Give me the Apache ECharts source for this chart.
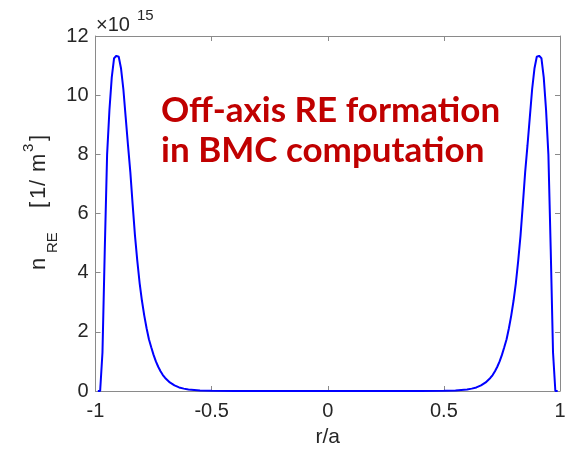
<!DOCTYPE html>
<html><head><meta charset="utf-8">
<script src="https://cdn.jsdelivr.net/npm/echarts@6/dist/echarts.min.js"></script>
<style>html,body{margin:0;padding:0;background:#fff}#c{width:571px;height:453px}</style>
</head><body><div id="c"></div>
<script>
// radius r/a
const rA = [-0.99,-0.98,-0.97,-0.96,-0.95,-0.94,-0.93,-0.92,-0.91,-0.90,-0.89,-0.88,-0.87,-0.86,-0.85,-0.84,-0.83,-0.82,-0.81,-0.80,-0.79,-0.78,-0.77,-0.76,-0.75,-0.74,-0.73,-0.72,-0.71,-0.70,-0.68,-0.66,-0.64,-0.62,-0.60,-0.55,-0.50,-0.40,-0.30,0.00,0.30,0.40,0.50,0.55,0.60,0.62,0.64,0.66,0.68,0.70,0.71,0.72,0.73,0.74,0.75,0.76,0.77,0.78,0.79,0.80,0.81,0.82,0.83,0.84,0.85,0.86,0.87,0.88,0.89,0.90,0.91,0.92,0.93,0.94,0.95,0.96,0.97,0.98,0.99];
// n_RE in units of 1e15 m^-3
const nRE = [0,0,1.3,4.8,8.0,9.5,10.6,11.25,11.33,11.3,10.9,10.2,9.25,8.3,7.4,6.3,5.25,4.4,3.65,3.05,2.55,2.12,1.75,1.48,1.22,1.0,0.82,0.67,0.54,0.44,0.29,0.19,0.12,0.08,0.05,0.02,0.008,0.001,0,0,0,0.001,0.008,0.02,0.05,0.08,0.12,0.19,0.29,0.44,0.54,0.67,0.82,1.0,1.22,1.48,1.75,2.12,2.55,3.05,3.65,4.4,5.25,6.3,7.4,8.3,9.25,10.2,10.9,11.3,11.33,11.25,10.6,9.5,8.0,4.8,1.3,0,0];
const xTickLabels = {"-1":"-1","-0.5":"-0.5","0":"0","0.5":"0.5","1":"1"};
const yTickLabels = ["0","2","4","6","8","10","12"];
const annotationLines = ["Off-axis RE formation","in BMC computation"];

const chart = echarts.init(document.getElementById('c'), null, {renderer:'canvas'});
const F = '"Liberation Sans", Arial, Helvetica, sans-serif';
const TXT = '#262626';
const AX = '#8a8a8a';
const tickInside = {show:true, inside:true, length:5, lineStyle:{color:AX}};
const ylab = (text, x, y, s) => ({type:'text', x:x, y:y, style:{text:text, fontFamily:F, fontSize:s, fill:TXT}});
chart.setOption({
  animation:false,
  backgroundColor:'#fff',
  grid:{left:95.5, right:11, top:36, bottom:60, containLabel:false},
  xAxis:[{
    type:'value', min:-1, max:1, interval:0.5, position:'bottom',
    axisLine:{show:true, onZero:false, lineStyle:{color:AX}},
    axisTick:tickInside, splitLine:{show:false},
    axisLabel:{fontFamily:F, fontSize:20, color:TXT, margin:10,
      formatter:v=>xTickLabels[String(v)] ?? String(v)},
    name:'r/a', nameLocation:'middle', nameGap:36,
    nameTextStyle:{fontFamily:F, fontSize:21, color:TXT}
  },{
    type:'value', min:-1, max:1, interval:0.5, position:'top',
    axisLine:{show:true, onZero:false, lineStyle:{color:AX}},
    axisTick:tickInside, axisLabel:{show:false}, splitLine:{show:false}
  }],
  yAxis:[{
    type:'value', min:0, max:12, interval:2, position:'left',
    axisLine:{show:true, onZero:false, lineStyle:{color:AX}},
    axisTick:tickInside, splitLine:{show:false},
    axisLabel:{fontFamily:F, fontSize:20, color:TXT, margin:7,
      formatter:(v)=>yTickLabels[Math.round(v/2)]}
  },{
    type:'value', min:0, max:12, interval:2, position:'right',
    axisLine:{show:true, onZero:false, lineStyle:{color:AX}},
    axisTick:tickInside, axisLabel:{show:false}, splitLine:{show:false}
  }],
  series:[{
    type:'line', xAxisIndex:0, yAxisIndex:0,
    data:rA.map((r,i)=>[r,nRE[i]]),
    showSymbol:false, smooth:false,
    lineStyle:{color:'#0000ff', width:2}
  }],
  graphic:[
    {type:'text', x:96, y:15, style:{text:'×10', fontFamily:F, fontSize:20, fill:TXT}},
    {type:'text', x:137, y:8, style:{text:'15', fontFamily:F, fontSize:15, fill:TXT}},
    {type:'group', x:0, y:270, rotation:Math.PI/2, children:[
      ylab('n', 0, 28, 22),
      ylab('RE', 17, 45, 15),
      ylab('[', 62, 28, 22),
      ylab('1', 71, 28, 22),
      ylab('/', 84, 28, 22),
      ylab('m', 98, 28, 22),
      ylab('3', 118, 21, 15),
      ylab(']', 129, 28, 22)
    ]},
    {type:'text', x:161, y:93, style:{text:annotationLines[0], fontFamily:'Lato, "Noto Sans", sans-serif', fontWeight:'bold', fontSize:35, fill:'#c00000'}},
    {type:'text', x:161, y:133, style:{text:annotationLines[1], fontFamily:'Lato, "Noto Sans", sans-serif', fontWeight:'bold', fontSize:35, fill:'#c00000'}}
  ]
});
</script></body></html>
